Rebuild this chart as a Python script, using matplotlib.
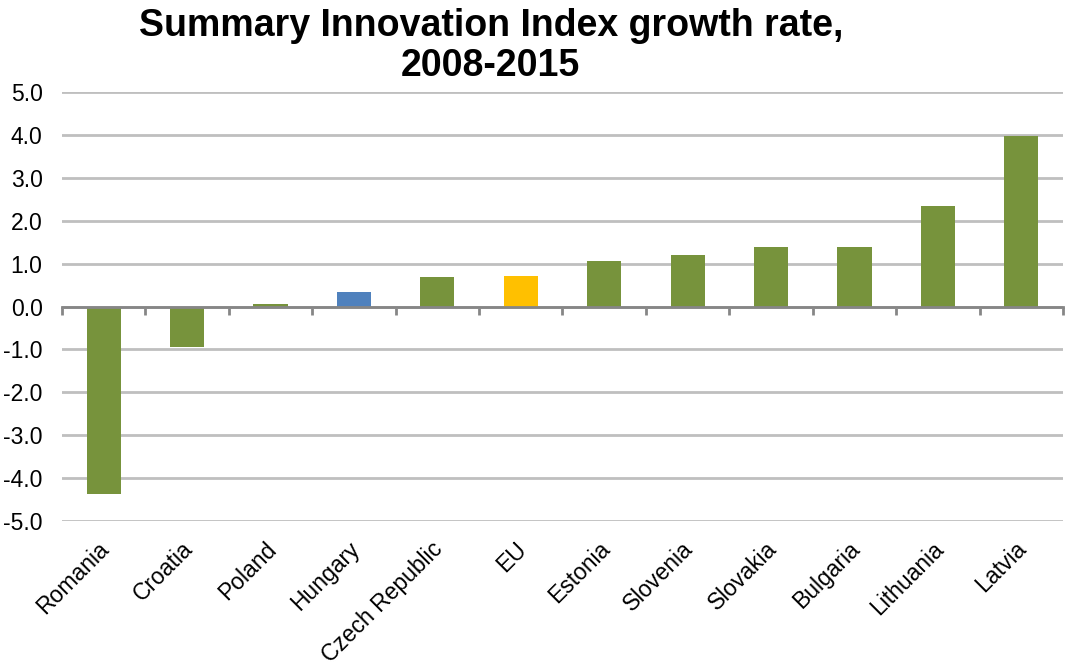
import matplotlib
matplotlib.use("Agg")
import matplotlib.pyplot as plt
import matplotlib.transforms as mtransforms
import numpy as np

categories = ["Romania", "Croatia", "Poland", "Hungary", "Czech Republic", "EU",
              "Estonia", "Slovenia", "Slovakia", "Bulgaria", "Lithuania", "Latvia"]
growth = [-4.38, -0.95, 0.07, 0.35, 0.68, 0.72, 1.06, 1.20, 1.39, 1.39, 2.34, 3.99]
colors = ["#77933C", "#77933C", "#77933C", "#4F81BD", "#77933C", "#FFC000",
          "#77933C", "#77933C", "#77933C", "#77933C", "#77933C", "#77933C"]
yticks = [-5, -4, -3, -2, -1, 0, 1, 2, 3, 4, 5]
title = "Summary Innovation Index growth rate,\n2008-2015"

plt.rcParams["font.family"] = ["Liberation Sans", "DejaVu Sans"]

fig = plt.figure(figsize=(10.81, 6.70), dpi=100)
ax = fig.add_axes([0.0574, 0.2228, 0.9259, 0.6394])

x = np.arange(len(categories))
ax.bar(x, growth, width=0.41, color=colors, zorder=3)

ax.set_xlim(-0.5, len(categories) - 0.5)
ax.set_ylim(-5, 5)
ax.set_yticks(yticks)
ax.set_yticklabels([f"{v:.1f}" for v in yticks], fontsize=16.5)
ax.tick_params(axis="y", length=0, pad=14)
ax.grid(axis="y", color="#BFBFBF", linewidth=2, zorder=0)

for side in ["left", "right", "top"]:
    ax.spines[side].set_visible(False)
ax.spines["bottom"].set_position(("data", 0))
ax.spines["bottom"].set_color("#868686")
ax.spines["bottom"].set_linewidth(2)
ax.spines["bottom"].set_zorder(4)

# tick marks at category boundaries on the zero line
ax.set_xticks(np.arange(-0.5, len(categories) + 0.5, 1.0))
ax.set_xticklabels([])
ax.tick_params(axis="x", direction="out", length=6, width=2, color="#868686")

# rotated category labels below the plot
trans = mtransforms.blended_transform_factory(ax.transData, ax.transAxes)
offset = mtransforms.ScaledTranslation(0.02, 0, fig.dpi_scale_trans)
for xi, name in zip(x, categories):
    ax.text(xi, -0.058, name, transform=trans + offset, rotation=45,
            rotation_mode="anchor", ha="right", va="center", fontsize=16.5)

fig.text(0.454, 0.988, title, ha="center", va="top", fontsize=27,
         fontweight="bold", linespacing=1.14)

fig.savefig("out.png", dpi=100)
